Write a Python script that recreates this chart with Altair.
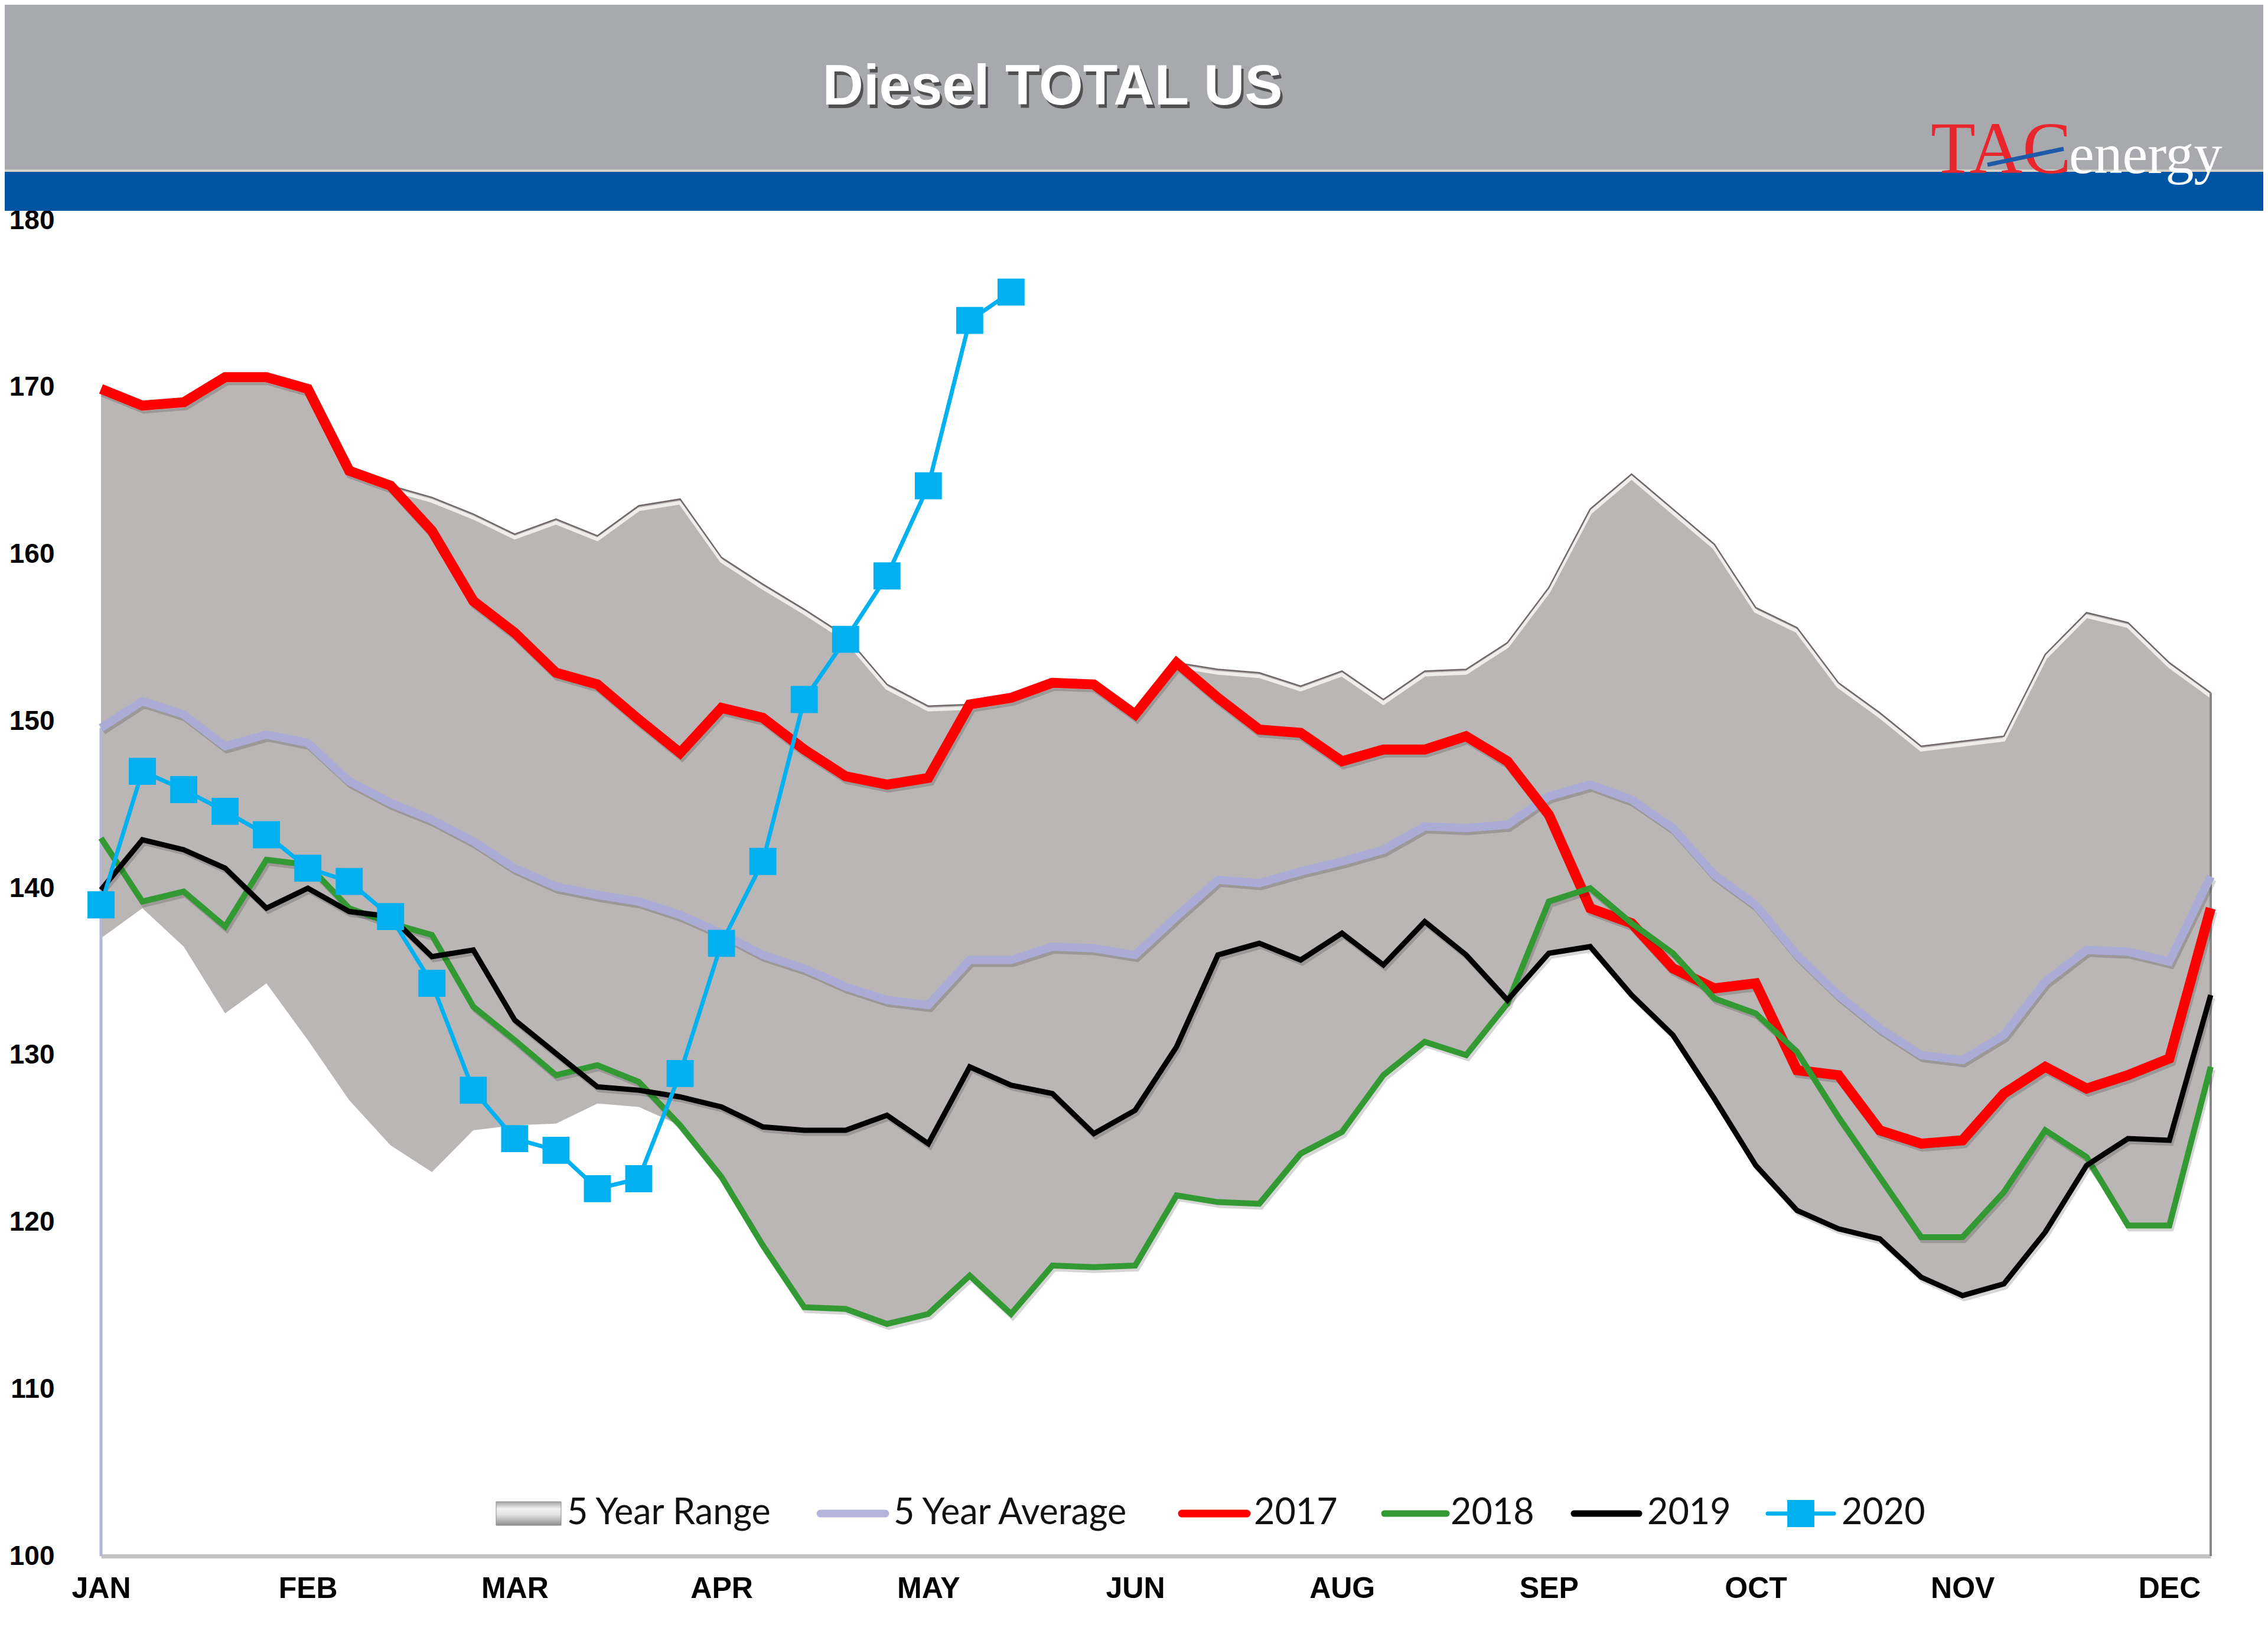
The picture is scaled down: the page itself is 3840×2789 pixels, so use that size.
import altair as alt
import pandas as pd

# ---------------- data ----------------
MONTHS = ["JAN", "FEB", "MAR", "APR", "MAY", "JUN", "AUG", "SEP", "OCT", "NOV", "DEC"]
WEEKS = list(range(52))
Y_TICKS = [100, 110, 120, 130, 140, 150, 160, 170, 180]

RANGE_LOW = [137.0, 138.8, 136.5, 132.5, 134.3, 130.9, 127.3, 124.6, 123.0, 125.5,
             125.8, 125.9, 127.1, 126.9, 125.8, 122.7, 118.6, 114.8, 114.8, 113.9,
             114.5, 116.8, 114.5, 117.4, 117.3, 117.4, 121.6, 121.2, 121.1, 124.1,
             125.4, 128.8, 130.8, 130.0, 133.0, 136.1, 136.5, 133.6, 131.2, 127.4,
             123.4, 120.7, 119.6, 119.0, 116.7, 115.6, 116.3, 119.4, 123.4, 119.8,
             119.8, 129.3]
RANGE_HIGH = [169.9, 168.9, 169.1, 170.6, 170.6, 169.9, 165.0, 164.1, 163.4, 162.4,
              161.2, 162.1, 161.1, 162.9, 163.3, 159.8, 158.2, 156.7, 155.1, 152.2,
              150.9, 151.0, 151.4, 152.3, 152.2, 150.4, 153.5, 153.1, 152.9, 152.1,
              153.0, 151.3, 153.0, 153.1, 154.7, 158.0, 162.7, 164.8, 162.7, 160.6,
              156.8, 155.6, 152.3, 150.5, 148.5, 148.8, 149.1, 154.0, 156.5, 155.9,
              153.5, 151.7]
AVG5 = [149.6, 151.2, 150.4, 148.5, 149.2, 148.7, 146.4, 145.1, 144.1, 142.8,
        141.2, 140.1, 139.6, 139.2, 138.4, 137.3, 136.0, 135.2, 134.1, 133.3,
        133.0, 135.7, 135.7, 136.5, 136.4, 136.0, 138.3, 140.5, 140.3, 141.0,
        141.6, 142.3, 143.7, 143.6, 143.8, 145.5, 146.2, 145.3, 143.6, 140.8,
        139.0, 136.0, 133.6, 131.6, 130.0, 129.7, 131.2, 134.4, 136.3, 136.2,
        135.6, 140.7]
Y2017 = [169.9, 168.9, 169.1, 170.6, 170.6, 169.9, 165.0, 164.1, 161.4, 157.2,
         155.3, 152.9, 152.2, 150.1, 148.1, 150.8, 150.2, 148.3, 146.7, 146.2,
         146.6, 151.0, 151.4, 152.3, 152.2, 150.4, 153.5, 151.4, 149.5, 149.3,
         147.6, 148.3, 148.3, 149.1, 147.6, 144.4, 138.8, 137.9, 135.2, 134.0,
         134.3, 129.1, 128.8, 125.5, 124.7, 124.9, 127.7, 129.3, 128.0, 128.8,
         129.8, 138.8]
Y2018 = [143.0, 139.2, 139.8, 137.7, 141.7, 141.4, 138.8, 137.9, 137.2, 132.9,
         130.9, 128.8, 129.4, 128.4, 125.8, 122.7, 118.6, 114.9, 114.8, 113.9,
         114.5, 116.8, 114.5, 117.4, 117.3, 117.4, 121.6, 121.2, 121.1, 124.1,
         125.4, 128.8, 130.8, 130.0, 133.1, 139.2, 140.0, 137.9, 136.1, 133.4,
         132.5, 130.2, 126.3, 122.7, 119.1, 119.1, 121.8, 125.5, 123.9, 119.8,
         119.8, 129.3]
Y2019 = [139.9, 142.9, 142.3, 141.2, 138.8, 140.0, 138.6, 138.3, 135.9, 136.3,
         132.1, 130.1, 128.1, 127.9, 127.5, 126.9, 125.7, 125.5, 125.5, 126.4,
         124.7, 129.3, 128.2, 127.7, 125.3, 126.7, 130.5, 136.0, 136.7, 135.7,
         137.3, 135.4, 138.0, 136.0, 133.3, 136.1, 136.5, 133.6, 131.2, 127.4,
         123.4, 120.7, 119.6, 119.0, 116.7, 115.6, 116.3, 119.4, 123.4, 125.0,
         124.9, 133.6]
Y2020 = [139.0, 147.0, 145.9, 144.6, 143.2, 141.2, 140.4, 138.3, 134.3, 127.9,
         125.0, 124.3, 122.0, 122.6, 128.9, 136.7, 141.6, 151.3, 154.9, 158.7,
         164.1, 174.0, 175.7]

df = pd.DataFrame({"week": WEEKS, "low": RANGE_LOW, "high": RANGE_HIGH, "avg": AVG5,
                   "y2017": Y2017, "y2018": Y2018, "y2019": Y2019})
df20 = pd.DataFrame({"week": WEEKS[:len(Y2020)], "y2020": Y2020})
one = pd.DataFrame({"k": [0]})

# ---------------- layout ----------------
W, H = 3572, 2262
PAD = {"left": 163, "top": 365, "right": 89, "bottom": 146}

label_arr = "[" + ",".join(f"'{m}'" for m in MONTHS) + "]"
x_scale = alt.Scale(domain=[0, 51], nice=False, zero=False)
y_scale = alt.Scale(domain=[100, 180], nice=False, zero=False)
x_axis = alt.Axis(values=list(range(0, 51, 5)), labelExpr=label_arr + "[round(datum.value/5)]",
                  grid=False, ticks=False, domain=True, domainColor="#c4c4c4", domainWidth=7,
                  labelFont="Liberation Sans", labelFontWeight="bold", labelFontSize=50,
                  labelColor="#000000", labelPadding=30, labelFlush=False, labelOverlap=False)
y_axis = alt.Axis(values=Y_TICKS, grid=False, ticks=False, domain=False,
                  labelFont="Liberation Sans", labelFontWeight="bold", labelFontSize=46,
                  labelColor="#000000", labelPadding=79, labelFlush=False, labelOverlap=False)

X = alt.X("week:Q", scale=x_scale, axis=x_axis, title=None)


def Y(field):
    return alt.Y(f"{field}:Q", scale=y_scale, axis=y_axis, title=None)


layers = []

# header bands
layers.append(alt.Chart(one).mark_rect(color="#a7a9ac").encode(
    x=alt.value(-163), x2=alt.value(3661), y=alt.value(-365), y2=alt.value(-84)))
layers.append(alt.Chart(one).mark_rect(color="#d6d2ca").encode(
    x=alt.value(-163), x2=alt.value(3661), y=alt.value(-86), y2=alt.value(-82)))
layers.append(alt.Chart(one).mark_rect(color="#0054a4").encode(
    x=alt.value(-163), x2=alt.value(3661), y=alt.value(-82), y2=alt.value(-16)))

# title with shadow
for dx, dy, col in [(4, 6, "#505050"), (0, 0, "#ffffff")]:
    layers.append(alt.Chart(one).mark_text(font="Liberation Sans", fontWeight="bold", fontSize=96,
                                           align="center", baseline="middle", color=col).encode(
        x=alt.value(1611 + dx), y=alt.value(-225 + dy), text=alt.value("Diesel TOTAL US")))

# logo
layers.append(alt.Chart(one).mark_text(font="Liberation Serif", fontSize=124, align="right",
                                       baseline="alphabetic", color="#e8262b").encode(
    x=alt.value(3336), y=alt.value(-80), text=alt.value("TAC")))
layers.append(alt.Chart(one).mark_rule(color="#1f5aa8", strokeWidth=7).encode(
    x=alt.value(3194), x2=alt.value(3323), y=alt.value(-94), y2=alt.value(-121)))
layers.append(alt.Chart(one).mark_text(font="Liberation Serif", fontSize=96, align="left",
                                       baseline="alphabetic", color="#ffffff").encode(
    x=alt.value(3332), y=alt.value(-80), text=alt.value("energy")))

# 5 year range area
layers.append(alt.Chart(df).mark_area(color="#bab6b5").encode(
    x=X, y=Y("low"), y2=alt.Y2("high:Q")))
layers.append(alt.Chart(df).mark_line(color="#ffffff", strokeWidth=6, opacity=0.75, yOffset=6).encode(
    x=X, y=Y("high")))
layers.append(alt.Chart(df).mark_line(color="#706868", strokeWidth=2.5).encode(x=X, y=Y("high")))

# edge rules
layers.append(alt.Chart(df[df.week == 0]).mark_rule(color="#b4b6d8", strokeWidth=5).encode(
    x=X, y=Y("avg"), y2=alt.datum(100)))
layers.append(alt.Chart(df[df.week == 51]).mark_rule(color="#8a8686", strokeWidth=4).encode(
    x=X, y=Y("high"), y2=alt.datum(100)))

# series lines with soft shadows
series = [("avg", "#aaacd6", 14), ("y2017", "#ff0000", 17), ("y2018", "#339933", 10),
          ("y2019", "#000000", 9)]
for field, col, sw in series:
    layers.append(alt.Chart(df).mark_line(color="#000000", opacity=0.16, strokeWidth=sw,
                                          xOffset=3, yOffset=5, strokeJoin="miter").encode(
        x=X, y=Y(field)))
    layers.append(alt.Chart(df).mark_line(color=col, strokeWidth=sw, strokeJoin="miter").encode(
        x=X, y=Y(field)))

# 2020
layers.append(alt.Chart(df20).mark_line(color="#00b0f0", strokeWidth=7).encode(x=X, y=Y("y2020")))
layers.append(alt.Chart(df20).mark_point(shape="square", filled=True, size=2100, color="#00b0f0",
                                         opacity=1).encode(x=X, y=Y("y2020")))

# legend (inside the plot, bottom centre)
LY = 2190
grad = {"gradient": "linear", "x1": 0, "y1": 0, "x2": 0, "y2": 1,
        "stops": [{"offset": 0, "color": "#a4a4a4"}, {"offset": 0.3, "color": "#f2f2f2"},
                  {"offset": 0.55, "color": "#e2e2e2"}, {"offset": 1, "color": "#8e8e8e"}]}
layers.append(alt.Chart(one).mark_rect(fill=grad, stroke="#8a8a8a", strokeWidth=1).encode(
    x=alt.value(669), x2=alt.value(779), y=alt.value(LY - 20), y2=alt.value(LY + 20)))
leg_lines = [(1218, 1328, "#b3b5dc", 13), (1830, 1940, "#ff0000", 13),
             (2173, 2278, "#339933", 11), (2494, 2604, "#000000", 11),
             (2822, 2934, "#00b0f0", 7)]
for x1, x2, col, sw in leg_lines:
    layers.append(alt.Chart(one).mark_rule(color=col, strokeWidth=sw, strokeCap="round").encode(
        x=alt.value(x1), x2=alt.value(x2), y=alt.value(LY), y2=alt.value(LY)))
layers.append(alt.Chart(one).mark_point(shape="square", filled=True, size=2100, color="#00b0f0",
                                        opacity=1).encode(x=alt.value(2878), y=alt.value(LY)))
leg_texts = [(789, "5 Year Range"), (1342, "5 Year Average"), (1952, "2017"),
             (2285, "2018"), (2618, "2019"), (2947, "2020")]
for tx, label in leg_texts:
    layers.append(alt.Chart(one).mark_text(font="Lato", fontSize=61, align="left",
                                           baseline="middle", color="#111111").encode(
        x=alt.value(tx), y=alt.value(LY), text=alt.value(label)))

chart = alt.layer(*layers).properties(
    width=W, height=H,
    autosize=alt.AutoSizeParams(type="none"),
    padding=PAD,
    background="#ffffff",
).configure_view(stroke=None)

chart.save("out.html", embed_options={"renderer": "svg", "actions": False})
